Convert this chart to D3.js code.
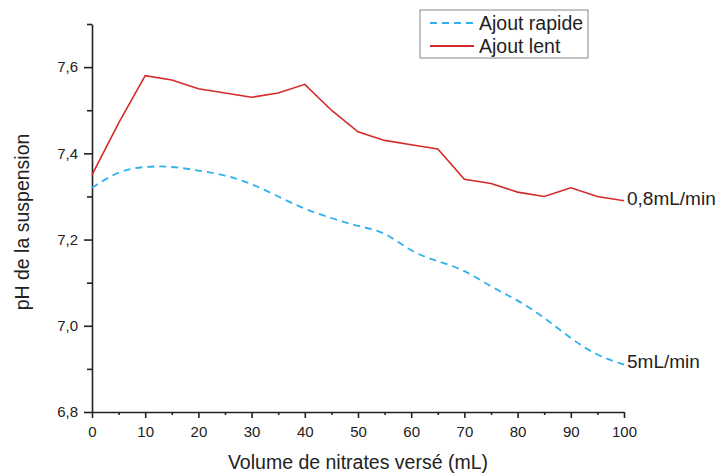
<!DOCTYPE html>
<html>
<head>
<meta charset="utf-8">
<script src="https://cdn.jsdelivr.net/npm/d3@7"></script>
<style>
  body { margin: 0; background: #fff; }
  svg text { font-family: "Liberation Sans", Arial, sans-serif; fill: #222; }
</style>
</head>
<body>
<div id="chart"></div>
<script>
const volumes = [0, 5, 10, 15, 20, 25, 30, 35, 40, 45, 50, 55, 60, 65, 70, 75, 80, 85, 90, 95, 100];
const phRapide = [7.32, 7.36, 7.37, 7.37, 7.36, 7.35, 7.33, 7.30, 7.27, 7.25, 7.23, 7.22, 7.17, 7.15, 7.13, 7.09, 7.06, 7.02, 6.97, 6.93, 6.91];
const phLent = [7.35, 7.47, 7.58, 7.57, 7.55, 7.54, 7.53, 7.54, 7.56, 7.50, 7.45, 7.43, 7.42, 7.41, 7.34, 7.33, 7.31, 7.30, 7.32, 7.30, 7.29];
const xTicks = [0, 10, 20, 30, 40, 50, 60, 70, 80, 90, 100];
const yTicks = [6.8, 7.0, 7.2, 7.4, 7.6];
const seriesNames = ['Ajout rapide', 'Ajout lent'];
const endLabels = ['5mL/min', '0,8mL/min'];

const width = 717, height = 473;
const margin = {top: 24, right: 93, bottom: 61, left: 92};
const innerW = width - margin.left - margin.right;
const innerH = height - margin.top - margin.bottom;

const svg = d3.select('#chart').append('svg')
    .attr('width', width)
    .attr('height', height);

const g = svg.append('g')
    .attr('transform', `translate(${margin.left},${margin.top})`);

const x = d3.scaleLinear().domain([0, 100]).range([0, innerW]);
const y = d3.scaleLinear().domain([6.8, 7.7]).range([innerH, 0]);

const fmt = d => d3.format('.1f')(d).replace('.', ',');

// minor ticks
const xMinor = d3.range(5, 100, 10);
const yMinor = [6.9, 7.1, 7.3, 7.5, 7.7];

g.append('g')
    .attr('transform', `translate(0,${innerH})`)
    .call(d3.axisBottom(x).tickValues(xTicks).tickSize(6).tickPadding(8).tickSizeOuter(0));
g.append('g')
    .attr('transform', `translate(0,${innerH})`)
    .call(d3.axisBottom(x).tickValues(xMinor).tickSize(3).tickFormat('').tickSizeOuter(0))
    .select('.domain').remove();

g.append('g')
    .call(d3.axisLeft(y).tickValues(yTicks).tickSize(8).tickPadding(6).tickFormat(fmt).tickSizeOuter(0));
g.append('g')
    .call(d3.axisLeft(y).tickValues(yMinor).tickSize(5).tickFormat('').tickSizeOuter(0))
    .select('.domain').remove();

g.selectAll('.domain, .tick line').attr('stroke', '#222').attr('stroke-width', 1.6);
g.selectAll('.tick text')
    .style('font-size', '15px')
    .style('font-family', '"Liberation Sans", Arial, sans-serif')
    .attr('fill', '#333');

// axis titles
svg.append('text')
    .attr('x', margin.left + innerW / 2)
    .attr('y', height - 4)
    .attr('text-anchor', 'middle')
    .style('font-size', '19.5px')
    .text('Volume de nitrates versé (mL)');

svg.append('text')
    .attr('transform', `translate(29,${margin.top + innerH / 2 + 4}) rotate(-90)`)
    .attr('text-anchor', 'middle')
    .style('font-size', '19.5px')
    .text('pH de la suspension');

// lines
const colors = ['#2fb2ec', '#d42a2a'];
const rapideData = volumes.map((v, i) => [v, phRapide[i]]);
const lentData = volumes.map((v, i) => [v, phLent[i]]);

g.append('path')
    .datum(rapideData)
    .attr('fill', 'none')
    .attr('stroke', colors[0])
    .attr('stroke-width', 1.8)
    .attr('stroke-dasharray', '7,5')
    .attr('d', d3.line().x(d => x(d[0])).y(d => y(d[1])).curve(d3.curveBasis));

g.append('path')
    .datum(lentData)
    .attr('fill', 'none')
    .attr('stroke', colors[1])
    .attr('stroke-width', 1.6)
    .attr('d', d3.line().x(d => x(d[0])).y(d => y(d[1])));

// end labels
[rapideData, lentData].forEach((data, i) => {
    const last = data[data.length - 1];
    g.append('text')
        .attr('x', x(last[0]) + 3)
        .attr('y', y(last[1]) + 1)
        .attr('dy', '0.15em')
        .style('font-size', '19px')
        .text(endLabels[i]);
});

// legend
const legend = svg.append('g').attr('transform', 'translate(420,10)');
legend.append('rect')
    .attr('width', 168).attr('height', 48)
    .attr('fill', '#fff')
    .attr('stroke', '#888')
    .attr('stroke-width', 1);
seriesNames.forEach((name, i) => {
    const ly = 13 + i * 23;
    legend.append('line')
        .attr('x1', 10).attr('x2', 54)
        .attr('y1', ly).attr('y2', ly)
        .attr('stroke', colors[i])
        .attr('stroke-width', 1.8)
        .attr('stroke-dasharray', i === 0 ? '7,5' : null);
    legend.append('text')
        .attr('x', 59)
        .attr('y', ly + 7)
        .style('font-size', '19.5px')
        .text(name);
});
</script>
</body>
</html>
